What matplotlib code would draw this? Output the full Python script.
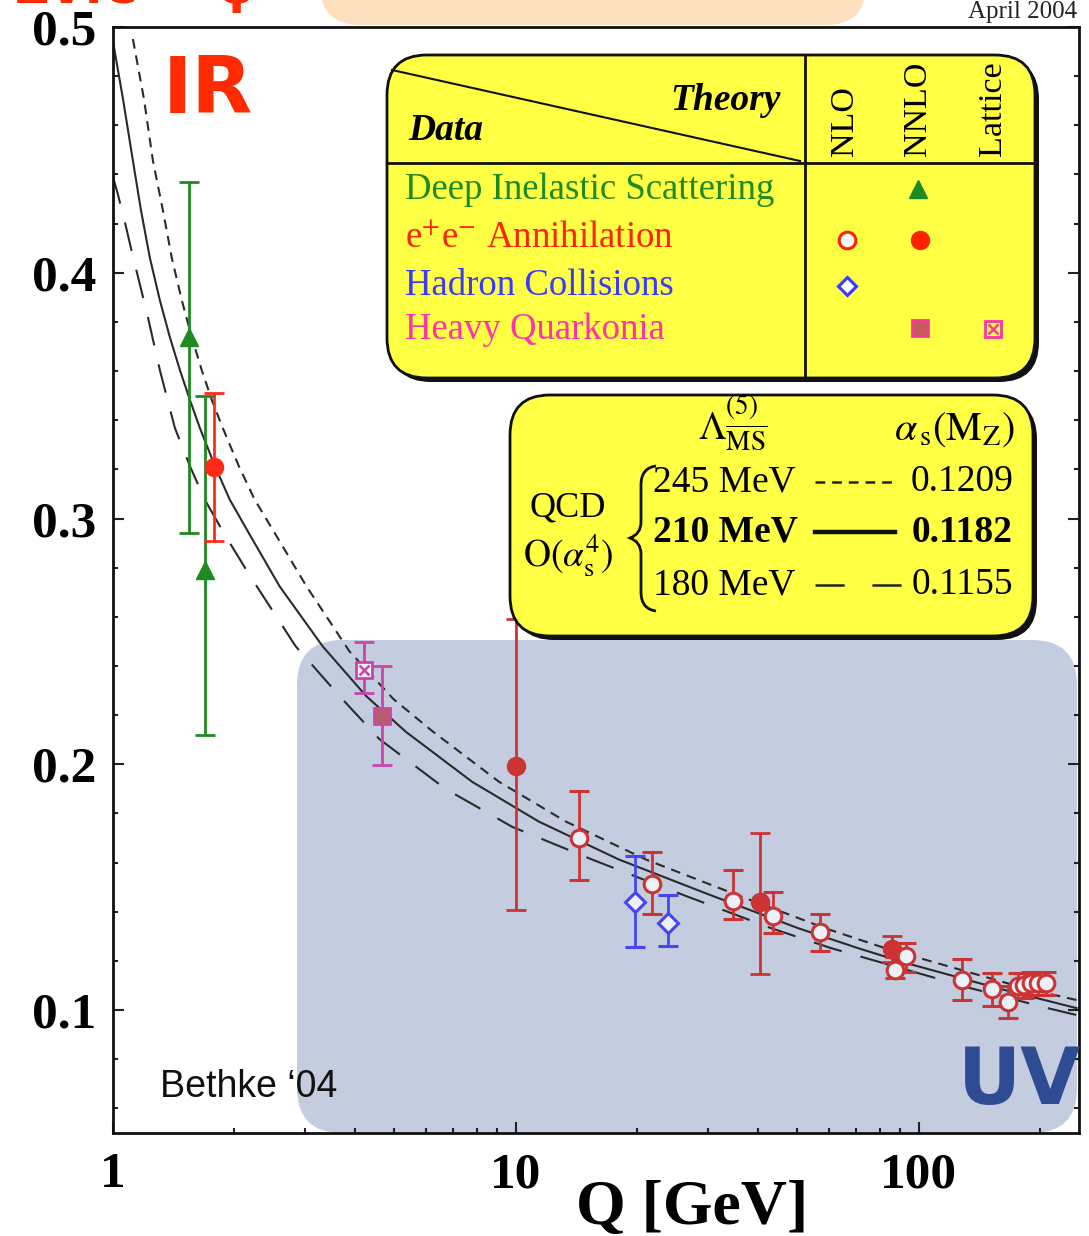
import numpy as np
import matplotlib
matplotlib.use("Agg")
import matplotlib.pyplot as plt
from matplotlib.patches import FancyBboxPatch, PathPatch
from matplotlib.path import Path
from matplotlib.ticker import MultipleLocator, NullFormatter, FixedLocator, FixedFormatter

plt.rcParams['mathtext.fontset'] = 'stix'
plt.rcParams['lines.scale_dashes'] = False
SERIF = 'Liberation Serif'

# ---------------- data ----------------
# QCD running curves: Lambda = 245 MeV (short dash), 210 MeV (solid), 180 MeV (long dash)
q_245 = [1.123, 1.196, 1.259, 1.333, 1.403, 1.485, 1.572, 1.664, 1.762, 1.876, 2.055, 2.252, 2.538,
         3.028, 3.869, 4.972, 6.247, 9.097, 13.33, 21.03, 35.12, 58.66, 82.57, 183.4, 246.6]
a_245 = [0.4951, 0.4708, 0.4456, 0.4254, 0.4059, 0.3888, 0.3738, 0.3604, 0.3483, 0.3369, 0.3215, 0.3077, 0.2935,
         0.2724, 0.2460, 0.2266, 0.2132, 0.1929, 0.1767, 0.1613, 0.1471, 0.1333, 0.1252, 0.1089, 0.1041]
q_210 = [1.0, 1.061, 1.123, 1.176, 1.238, 1.310, 1.387, 1.469, 1.555, 1.646, 1.793, 1.953, 2.188, 2.597,
         3.318, 4.256, 5.345, 7.80, 11.42, 18.03, 30.1, 50.3, 70.8, 91.5, 157.2, 246.6]
a_210 = [0.495, 0.4708, 0.4456, 0.4254, 0.4059, 0.3888, 0.3738, 0.3604, 0.3483, 0.3369, 0.3215, 0.3077, 0.2935, 0.2724,
         0.2481, 0.2278, 0.2132, 0.1929, 0.1767, 0.1613, 0.1471, 0.1333, 0.1252, 0.1195, 0.1089, 0.1008]
q_180 = [1.0, 1.031, 1.073, 1.123, 1.217, 1.310, 1.427, 1.554, 1.693, 1.897, 2.188, 2.844, 3.655, 4.590,
         6.687, 9.797, 15.46, 25.82, 43.12, 60.7, 134.8, 209.1, 246.6]
a_180 = [0.4396, 0.4318, 0.4205, 0.4067, 0.3836, 0.3604, 0.3369, 0.3215, 0.3077, 0.2935, 0.2769, 0.2481, 0.2278, 0.2103,
         0.1901, 0.1746, 0.1613, 0.1471, 0.1333, 0.1252, 0.1089, 0.1008, 0.0980]

# Deep inelastic scattering (NNLO)
dis_q = [1.55, 1.70]
dis_a = [0.374, 0.279]
dis_hi = [0.437, 0.350]
dis_lo = [0.294, 0.212]

# e+e- annihilation, NNLO (filled)
een_q = [1.78, 10.0, 40.3, 86.0]
een_a = [0.321, 0.1995, 0.1441, 0.1247]
een_hi = [0.351, 0.2593, 0.1722, 0.1301]
een_lo = [0.291, 0.1406, 0.1146, 0.1195]

# e+e- annihilation, NLO (open)
eeo_q = [14.4, 21.8, 34.7, 43.6, 56.9, 87.3, 93.2, 128.3, 152.2, 166.4, 176.2, 183, 190, 197.5, 207]
eeo_a = [0.1702, 0.1515, 0.1445, 0.1384, 0.1319, 0.1164, 0.1222, 0.1123, 0.1085, 0.1035, 0.1097, 0.1103, 0.1110, 0.1110, 0.1110]
eeo_hi = [0.1891, 0.1644, 0.1569, 0.1481, 0.1393, 0.1215, 0.1272, 0.1208, 0.1150, 0.1097, 0.1150, 0.1150, 0.1155, 0.1155, 0.1155]
eeo_lo = [0.1531, 0.1390, 0.1369, 0.1312, 0.1242, 0.1130, 0.1157, 0.1042, 0.1016, 0.0968, 0.1050, 0.1050, 0.1060, 0.1060, 0.1060]

# Hadron collisions (NLO)
had_q = [19.75, 23.9]
had_a = [0.1438, 0.1353]
had_hi = [0.1626, 0.1468]
had_lo = [0.1256, 0.1262]

# Heavy quarkonia
hq_nnlo_q = [4.66]
hq_nnlo_a = [0.2198]
hq_nnlo_hi = [0.2401]
hq_nnlo_lo = [0.1999]
hq_lat_q = [4.2]
hq_lat_a = [0.2385]
hq_lat_hi = [0.2498]
hq_lat_lo = [0.229]

x_ticks = [1, 10, 100]
x_ticklabels = ['1', '10', '100']
y_ticks = [0.1, 0.2, 0.3, 0.4, 0.5]
y_ticklabels = ['0.1', '0.2', '0.3', '0.4', '0.5']

legend_rows = ['Deep Inelastic Scattering', 'e$^{+}$e$^{-}$ Annihilation', 'Hadron Collisions', 'Heavy Quarkonia']
legend_cols = ['NLO', 'NNLO', 'Lattice']
lam_labels = ['245 MeV', '210 MeV', '180 MeV']
asmz_labels = ['0.1209', '0.1182', '0.1155']

# ---------------- figure ----------------
W, H = 1089, 1236
fig = plt.figure(figsize=(W / 100, H / 100), dpi=100)
fig.patch.set_facecolor('white')


def overlay(z):
    a = fig.add_axes([0, 0, 1, 1], zorder=z)
    a.set_xlim(0, W)
    a.set_ylim(H, 0)
    a.axis('off')
    a.patch.set_alpha(0)
    return a


bg = overlay(0)
AX_L, AX_R, AX_T, AX_B = 112.6, 1079, 27, 1133
ax = fig.add_axes([AX_L / W, 1 - AX_B / H, (AX_R - AX_L) / W, (AX_B - AX_T) / H], zorder=1)
ax.patch.set_alpha(0)
fg = overlay(2)

# background shapes
bg.add_patch(FancyBboxPatch((297, 640), 1077 - 297, AX_B - 640,
                            boxstyle='round,pad=0,rounding_size=45', fc='#c4cde0', ec='none'))
bg.add_patch(FancyBboxPatch((320, -60), 866 - 320, 85,
                            boxstyle='round,pad=0,rounding_size=40', fc='#fde0bf', ec='none'))

# ---------------- main axes ----------------
ax.set_xscale('log')
ax.set_xlim(1, 250)
ax.set_ylim(0.05, 0.5)

curve_col = '#2a2a2a'
ax.plot(q_245, a_245, color=curve_col, lw=1.5, ls=(0, (7, 5)), zorder=2)
ax.plot(q_210, a_210, color=curve_col, lw=1.5, ls='-', zorder=2)
ax.plot(q_180, a_180, color=curve_col, lw=1.5, ls=(0, (21, 14)), zorder=2)


def ebar(q, a, hi, lo, color, **kw):
    a = np.array(a)
    yerr = [a - np.array(lo), np.array(hi) - a]
    ax.errorbar(q, a, yerr=yerr, color=color, ecolor=color, elinewidth=2.0,
                capsize=7, capthick=2.0, ls='none', zorder=4, **kw)


red_in = '#cc3333'
red_out = '#ff2a1a'
green = '#1f8a1f'
blue = '#4646ee'
mag = '#cc44aa'

ebar(dis_q, dis_a, dis_hi, dis_lo, green, marker='^', ms=13, mfc=green, mec=green)
for q, a, h, l in zip(een_q, een_a, een_hi, een_lo):
    c = red_out if q < 3 else red_in
    ebar([q], [a], [h], [l], c, marker='o', ms=13, mfc=c, mec=c)
ebar(eeo_q, eeo_a, eeo_hi, eeo_lo, red_in, marker='o', ms=12, mfc='#eef0f8', mec=red_in, mew=2.2)
ebar(had_q, had_a, had_hi, had_lo, blue, marker='D', ms=10, mfc='#eef0f8', mec=blue, mew=2.2)
ebar(hq_nnlo_q, hq_nnlo_a, hq_nnlo_hi, hq_nnlo_lo, mag, marker='s', ms=12, mfc='#b85c6e', mec=mag, mew=2)
ebar(hq_lat_q, hq_lat_a, hq_lat_hi, hq_lat_lo, mag, marker='s', ms=12, mfc='#eef0f8', mec=mag, mew=2)
ax.plot(hq_lat_q, hq_lat_a, ls='none', marker='x', ms=7, mec=mag, mew=1.8, zorder=5)

ax.xaxis.set_major_locator(FixedLocator(x_ticks))
ax.xaxis.set_major_formatter(FixedFormatter(x_ticklabels))
ax.xaxis.set_minor_formatter(NullFormatter())
ax.yaxis.set_major_locator(FixedLocator(y_ticks))
ax.yaxis.set_major_formatter(FixedFormatter(y_ticklabels))
ax.yaxis.set_minor_locator(MultipleLocator(0.02))
ax.tick_params(which='both', direction='in', top=False, right=True, width=1.5, color='#222222')
ax.tick_params(which='major', length=8)
ax.tick_params(which='minor', length=3.5)
ax.tick_params(axis='y', pad=12)
ax.tick_params(axis='x', pad=14)
for lab in ax.get_xticklabels() + ax.get_yticklabels():
    lab.set_fontfamily(SERIF)
    lab.set_fontweight('bold')
    lab.set_fontsize(37)
for s in ax.spines.values():
    s.set_linewidth(2.0)
    s.set_color('#111111')

# ---------------- overlay texts ----------------
fg.text(692, 1238, 'Q [GeV]', family=SERIF, weight='bold', fontsize=46, ha='center', va='bottom')
fg.text(1077, 18, 'April 2004', family=SERIF, fontsize=18, ha='right', va='baseline', color='#222222')
fg.text(163, 113, 'IR', family='DejaVu Sans', weight='bold', fontsize=57, color='#ff2a00', ha='left', va='baseline')
fg.text(958, 1104, 'UV', family='DejaVu Sans', weight='bold', fontsize=56, color='#2f4b94', ha='left', va='baseline')
fg.text(160, 1097, 'Bethke \u201804', family='Liberation Sans', fontsize=27, color='#111111', ha='left', va='baseline')
# cut-off red heading at the very top edge
fg.text(15, 3, 'ZVIC', family='DejaVu Sans', weight='bold', fontsize=34, color='#ff2a00', ha='left', va='baseline')
fg.text(218, 3, '\u03c6', family='DejaVu Sans', weight='bold', fontsize=34, color='#ff2a00', ha='left', va='baseline')

# ---------------- legend box 1 ----------------
yellow = '#ffff44'
fg.add_patch(FancyBboxPatch((391, 59), 1035 - 387, 378 - 55, boxstyle='round,pad=0,rounding_size=40',
                            fc='#111111', ec='none'))
fg.add_patch(FancyBboxPatch((387, 55), 1035 - 387, 378 - 55, boxstyle='round,pad=0,rounding_size=40',
                            fc=yellow, ec='#111111', lw=2))
fg.plot([805, 805], [57, 376], color='#111111', lw=2)
fg.plot([388, 1034], [163, 163], color='#111111', lw=2)
fg.plot([392, 800], [70, 161], color='#111111', lw=1.5)
fg.text(781, 110, 'Theory', family=SERIF, weight='bold', style='italic', fontsize=27, ha='right', va='baseline')
fg.text(408, 140, 'Data', family=SERIF, weight='bold', style='italic', fontsize=27, ha='left', va='baseline')
for name, xc in zip(legend_cols, [845, 918, 993]):
    fg.text(xc, 156, name, family=SERIF, fontsize=24.5, rotation=90, ha='center', va='bottom')
row_cols = [green, '#ff2200', '#3a3aff', '#ff33aa']
row_y = [190, 238, 286, 330]
for name, c, yy in zip(legend_rows, row_cols, row_y):
    fg.text(405, yy, name, family=SERIF, fontsize=26.5, color=c, ha='left', va='center')
fg.plot([918], [189], marker='^', ms=13, color=green, ls='none')
fg.plot([847], [240], marker='o', ms=12, mfc='white', mec='#ff2200', mew=2.2, ls='none')
fg.plot([920], [240], marker='o', ms=13, color='#ff2200', ls='none')
fg.plot([847], [286], marker='D', ms=9, mfc='white', mec='#3a3aff', mew=2.2, ls='none')
fg.plot([920], [328], marker='s', ms=12, mfc='#c85a5a', mec='#ff33aa', mew=2, ls='none')
fg.plot([993], [329], marker='s', ms=12, mfc='none', mec='#ff33aa', mew=2, ls='none')
fg.plot([993], [329], marker='x', ms=7, mec='#ff33aa', mew=1.8, ls='none')

# ---------------- legend box 2 ----------------
fg.add_patch(FancyBboxPatch((514, 399), 1033 - 510, 636 - 395, boxstyle='round,pad=0,rounding_size=40',
                            fc='#111111', ec='none'))
fg.add_patch(FancyBboxPatch((510, 395), 1033 - 510, 636 - 395, boxstyle='round,pad=0,rounding_size=40',
                            fc=yellow, ec='#111111', lw=2))
fg.text(733, 440, r'$\Lambda^{(5)}_{\overline{\mathrm{MS}}}$', fontsize=28, ha='center', va='baseline')
fg.text(1015, 440, r'$\alpha_{\,\mathrm{s}}(\mathrm{M_Z})$', fontsize=29, ha='right', va='baseline')
fg.text(568, 508, 'QCD', family=SERIF, fontsize=26, ha='center', va='center')
fg.text(568, 556, r'$\mathrm{O}(\alpha_{\mathrm{s}}^{4})$', fontsize=27, ha='center', va='center')
brace = Path([(656, 466), (641, 468), (641, 485), (641, 522), (641, 534), (630, 538),
              (641, 542), (641, 554), (641, 592), (641, 609), (656, 611)],
             [Path.MOVETO, Path.CURVE3, Path.CURVE3, Path.LINETO, Path.CURVE3, Path.CURVE3,
              Path.CURVE3, Path.CURVE3, Path.LINETO, Path.CURVE3, Path.CURVE3])
fg.add_patch(PathPatch(brace, fc='none', ec='#111111', lw=2))
lam_y = [482, 532, 585]
weights = ['normal', 'bold', 'normal']
for lab, val, yy, w in zip(lam_labels, asmz_labels, lam_y, weights):
    fg.text(653, yy, lab, family=SERIF, fontsize=27, weight=w, ha='left', va='center')
    fg.text(1013, yy, val, family=SERIF, fontsize=27, weight=w, ha='right', va='center')
fg.plot([815, 893], [482, 482], color='#222222', lw=1.8, ls=(0, (7, 5)))
fg.plot([815, 895], [532, 532], color='#111111', lw=3.2, ls='-')
fg.plot([815, 902], [585, 585], color='#222222', lw=1.8, ls=(0, (21, 20)))

fig.savefig('out.png', dpi=100)
